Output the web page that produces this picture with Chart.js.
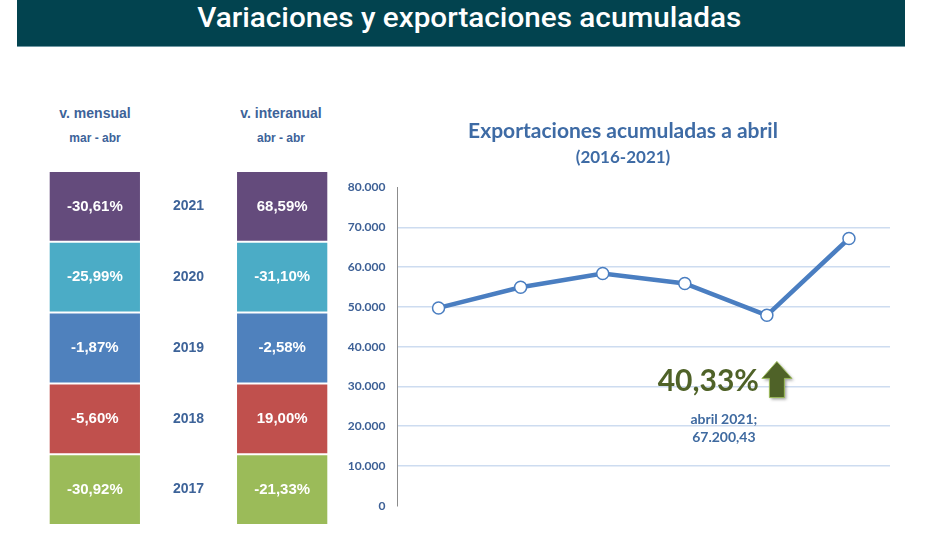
<!DOCTYPE html>
<html>
<head>
<meta charset="utf-8">
<script src="https://cdn.jsdelivr.net/npm/chart.js@4"></script>
<style>
  body { margin: 0; background: #fff; width: 948px; height: 535px; position: relative; overflow: hidden; }
  .banner { position: absolute; left: 17px; top: 0; width: 872px; padding-left: 16px; height: 46px; background: #02434f;
            border-bottom: 1px solid #6f98a3; text-align: center; }
  .banner span { display: inline-block; color: #fff; font-family: Roboto, sans-serif; font-size: 27px;
                 font-weight: 500; line-height: 36px; transform: scaleX(1.1); }
  .hdr { position: absolute; width: 140px; text-align: center; color: #3d6399;
         font-family: "Liberation Sans", Arial, sans-serif; font-weight: bold; }
  .hdr .main { font-size: 14px; line-height: 18px; }
  .hdr .sub { font-size: 12px; line-height: 16px; margin-top: 8px; }
  #tableChart { position: absolute; left: 48px; top: 171px; }
  #lineChart { position: absolute; left: 340px; top: 110px; }
</style>
</head>
<body>
<div class="banner"><span>Variaciones y exportaciones acumuladas</span></div>
<div class="hdr" style="left:25px; top:104px;"><div class="main">v. mensual</div><div class="sub">mar - abr</div></div>
<div class="hdr" style="left:211px; top:104px;"><div class="main">v. interanual</div><div class="sub">abr - abr</div></div>
<canvas id="tableChart" width="281" height="354"></canvas>
<canvas id="lineChart" width="566" height="415"></canvas>
<script>
// --- data ---
// table rows, bottom to top
const tableYears = ['2017', '2018', '2019', '2020', '2021'];
const varMensual = [-30.92, -5.60, -1.87, -25.99, -30.61];
const varInteranual = [-21.33, 19.00, -2.58, -31.10, 68.59];
const rowColors = ['#9bbb59', '#c0504d', '#4f81bd', '#4bacc6', '#644b7c'];

// accumulated exports Jan-Apr
const years = ['2016', '2017', '2018', '2019', '2020', '2021'];
const exportsAcum = [49750, 54950, 58400, 55900, 47887, 67200.43];
const yTicks = [0, 10000, 20000, 30000, 40000, 50000, 60000, 70000, 80000];
const growthLabel = '40,33%';

const pct = v => v.toFixed(2).replace('.', ',') + '%';
const thousands = v => {
    const [i, d] = v.toFixed(v % 1 ? 2 : 0).split('.');
    return i.replace(/\B(?=(\d{3})+(?!\d))/g, '.') + (d ? ',' + d : '');
};

Chart.defaults.font.family = "Lato, 'Open Sans', sans-serif";

// 1. Table of variations (stacked cells)
const cellText = {
    id: 'cellText',
    afterDatasetsDraw(chart) {
        const ctx = chart.ctx;
        const xs = chart.scales.x;
        ctx.save();
        ctx.textAlign = 'center';
        ctx.textBaseline = 'middle';
        chart.data.datasets.forEach((ds, i) => {
            const bars = chart.getDatasetMeta(i).data;
            const cy = (bars[0].y + bars[0].base) / 2;
            ctx.font = "bold 15px 'Liberation Sans', Arial, sans-serif";
            ctx.fillStyle = '#ffffff';
            ctx.fillText(pct(varMensual[i]), bars[0].x, cy);
            ctx.fillText(pct(varInteranual[i]), bars[2].x, cy);
            ctx.font = "bold 14px 'Liberation Sans', Arial, sans-serif";
            ctx.fillStyle = '#3d6399';
            ctx.fillText(tableYears[i], xs.getPixelForValue(1), cy);
        });
        ctx.restore();
    }
};

new Chart(document.getElementById('tableChart'), {
    type: 'bar',
    data: {
        labels: ['v. mensual', '', 'v. interanual'],
        datasets: tableYears.map((yr, i) => ({
            label: yr,
            data: [1, null, 1],
            backgroundColor: rowColors[i],
            borderColor: '#ffffff',
            borderWidth: 1,
            borderSkipped: false,
            barPercentage: 1,
            categoryPercentage: 0.985
        }))
    },
    options: {
        responsive: false,
        animation: false,
        layout: { padding: 0 },
        plugins: { legend: { display: false }, tooltip: { enabled: false } },
        scales: {
            x: { display: false, stacked: true },
            y: { display: false, stacked: true, min: 0, max: tableYears.length }
        }
    },
    plugins: [cellText]
});

// 2. Accumulated exports line
const annot = {
    id: 'annot',
    afterDatasetsDraw(chart) {
        const { ctx, scales: { x, y } } = chart;
        const last = exportsAcum.length - 1;
        const xPrev = x.getPixelForValue(last - 1);
        ctx.save();

        // growth figure
        ctx.font = "bold 30px Lato, sans-serif";
        ctx.fillStyle = '#4f6228';
        ctx.textAlign = 'right';
        ctx.textBaseline = 'middle';
        ctx.fillText(growthLabel, xPrev - 8, y.getPixelForValue(31300));

        // up arrow
        const cx = xPrev + 10;
        const yTip = y.getPixelForValue(36300);
        const yBase = y.getPixelForValue(27200);
        const yHead = yTip + 17;
        ctx.beginPath();
        ctx.moveTo(cx, yTip);
        ctx.lineTo(cx + 15, yHead);
        ctx.lineTo(cx + 7.5, yHead);
        ctx.lineTo(cx + 7.5, yBase);
        ctx.lineTo(cx - 7.5, yBase);
        ctx.lineTo(cx - 7.5, yHead);
        ctx.lineTo(cx - 15, yHead);
        ctx.closePath();
        ctx.shadowColor = 'rgba(0,0,0,0.35)';
        ctx.shadowOffsetX = 2;
        ctx.shadowOffsetY = 2;
        ctx.shadowBlur = 3;
        ctx.fillStyle = '#4f6228';
        ctx.fill();
        ctx.shadowColor = 'transparent';
        ctx.strokeStyle = '#9bbb59';
        ctx.lineWidth = 1;
        ctx.stroke();

        // data label of the last point
        ctx.font = "bold 14px Lato, sans-serif";
        ctx.fillStyle = '#3f6aa0';
        ctx.textAlign = 'center';
        const lx = xPrev - 43;
        ctx.fillText('abril ' + years[last] + ';', lx, y.getPixelForValue(21800));
        ctx.fillText(thousands(exportsAcum[last]), lx, y.getPixelForValue(17100));
        ctx.restore();
    }
};

new Chart(document.getElementById('lineChart'), {
    type: 'line',
    data: {
        labels: years,
        datasets: [{
            label: 'Exportaciones acumuladas',
            data: exportsAcum,
            borderColor: '#4a7ec1',
            borderWidth: 4.5,
            tension: 0,
            pointRadius: 6,
            pointBackgroundColor: '#ffffff',
            pointBorderColor: '#4a7ec1',
            pointBorderWidth: 1.5
        }]
    },
    options: {
        responsive: false,
        animation: false,
        layout: { padding: { left: 0, right: 0, top: 0, bottom: 17 } },
        plugins: {
            legend: { display: false },
            tooltip: { enabled: false },
            title: {
                display: true,
                text: 'Exportaciones acumuladas a abril',
                color: '#3e6ba5',
                font: { size: 21, weight: 'bold' },
                padding: { top: 9, bottom: 0 }
            },
            subtitle: {
                display: true,
                text: '(2016-2021)',
                color: '#3e6ba5',
                font: { size: 17, weight: 'bold' },
                padding: { top: 3, bottom: 20 }
            }
        },
        scales: {
            x: { display: false, offset: true },
            y: {
                min: 0,
                max: 80000,
                afterFit: s => { s.width = 57.5; },
                afterBuildTicks: s => { s.ticks = yTicks.map(v => ({ value: v })); },
                ticks: {
                    color: '#3d6096',
                    font: { size: 12, weight: 'bold' },
                    padding: 12,
                    callback: v => thousands(v)
                },
                grid: {
                    drawTicks: false,
                    lineWidth: 1.5,
                    color: c => (c.tick.value === 0 || c.tick.value === 80000) ? 'rgba(0,0,0,0)' : '#cddcf0'
                },
                border: { display: true, color: '#8c8c8c', width: 1 }
            },
            // empty right margin so the title centres like the original
            yRight: {
                position: 'right',
                min: 0,
                max: 80000,
                afterFit: s => { s.width = 16; },
                ticks: { display: false },
                grid: { display: false },
                border: { display: false }
            }
        }
    },
    plugins: [annot]
});
</script>
</body>
</html>
